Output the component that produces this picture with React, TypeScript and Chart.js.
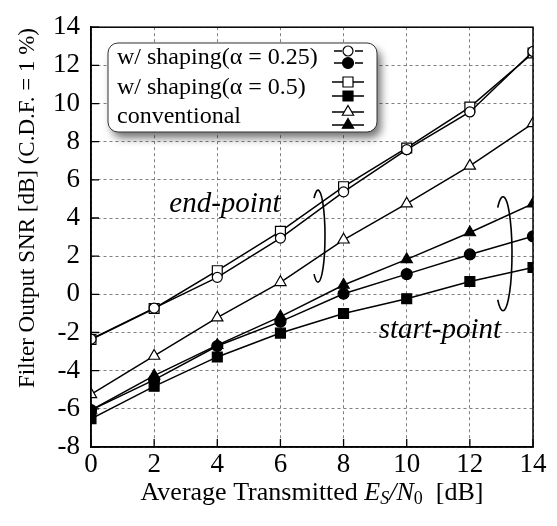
import React, { useEffect, useRef } from 'react';
import { Chart, registerables } from 'chart.js';

Chart.register(...registerables);

// ---- data ----
const xValues = [0, 2, 4, 6, 8, 10, 12, 14];
const shaping025End = [-2.35, -0.72, 0.89, 2.95, 5.37, 7.58, 9.56, 12.73];
const shaping025Start = [-6.06, -4.48, -2.71, -1.43, 0.03, 1.06, 2.09, 3.04];
const shaping05End = [-2.37, -0.74, 1.24, 3.3, 5.64, 7.67, 9.81, 12.65];
const shaping05Start = [-6.52, -4.82, -3.28, -2.03, -1.0, -0.23, 0.67, 1.41];
const convEnd = [-5.24, -3.23, -1.22, 0.63, 2.86, 4.75, 6.73, 8.96];
const convStart = [-6.06, -4.26, -2.66, -1.17, 0.49, 1.83, 3.24, 4.75];
const xTicks = [0, 2, 4, 6, 8, 10, 12, 14];
const yTicks = [-8, -6, -4, -2, 0, 2, 4, 6, 8, 10, 12, 14];
const legendLabels = ['w/ shaping(\u03b1 = 0.25)', 'w/ shaping(\u03b1 = 0.5)', 'conventional'];
const yTitle = 'Filter Output SNR [dB] (C.D.F. = 1 %)';
const endLabel = 'end-point';
const startLabel = 'start-point';

const SERIF = '"Liberation Serif", "Times New Roman", serif';

function pts(ys: number[]) {
  return xValues.map((x, i) => ({ x, y: ys[i] }));
}

function drawMarker(ctx: CanvasRenderingContext2D, style: string, x: number, y: number, filled: boolean) {
  ctx.save();
  ctx.lineWidth = 1.2;
  ctx.strokeStyle = '#000';
  ctx.fillStyle = filled ? '#000' : '#fff';
  ctx.beginPath();
  if (style === 'circle') {
    ctx.arc(x, y, filled ? 5.5 : 5, 0, Math.PI * 2);
  } else if (style === 'rect') {
    const s = 5;
    ctx.rect(x - s, y - s, 2 * s, 2 * s);
  } else {
    const r = 6.5;
    for (let k = 0; k < 3; k++) {
      const a = (k * 2 * Math.PI) / 3;
      const px = x + Math.sin(a) * r;
      const py = y - Math.cos(a) * r;
      if (k === 0) ctx.moveTo(px, py);
      else ctx.lineTo(px, py);
    }
    ctx.closePath();
  }
  ctx.fill();
  ctx.stroke();
  ctx.restore();
}

const decorPlugin = {
  id: 'decor',
  afterDraw(chart: any) {
    const ctx: CanvasRenderingContext2D = chart.ctx;
    const xs = chart.scales.x;
    const ys = chart.scales.y;
    const area = chart.chartArea;
    const X = (v: number) => xs.getPixelForValue(v);
    const Y = (v: number) => ys.getPixelForValue(v);

    ctx.save();
    // frame
    ctx.strokeStyle = '#000';
    ctx.lineWidth = 1.5;
    ctx.strokeRect(area.left, area.top, area.right - area.left, area.bottom - area.top);
    // inward ticks
    ctx.lineWidth = 1.3;
    ctx.beginPath();
    yTicks.forEach((v) => {
      ctx.moveTo(area.left, Y(v));
      ctx.lineTo(area.left + 8, Y(v));
    });
    xTicks.forEach((v) => {
      ctx.moveTo(X(v), area.bottom);
      ctx.lineTo(X(v), area.bottom - 8);
    });
    ctx.stroke();

    // brackets
    ctx.lineWidth = 1.6;
    ctx.beginPath();
    ctx.ellipse(X(7.19), Y(3.05), 7, 46, 0, -2.17, 2.17);
    ctx.stroke();
    ctx.beginPath();
    ctx.ellipse(X(13.05), Y(2.13), 9, 57, 0, -2.2, 2.2);
    ctx.stroke();

    // annotation text
    ctx.fillStyle = '#000';
    ctx.font = 'italic 29px ' + SERIF;
    ctx.textAlign = 'center';
    ctx.textBaseline = 'alphabetic';
    ctx.fillText(endLabel, X(4.24), Y(4.34));
    ctx.fillText(startLabel, X(11.05), Y(-2.3));

    // legend box
    const bx = 108, by = 43, bw = 269, bh = 89;
    ctx.save();
    ctx.shadowColor = 'rgba(0,0,0,0.55)';
    ctx.shadowBlur = 8;
    ctx.shadowOffsetX = 4;
    ctx.shadowOffsetY = 6;
    ctx.fillStyle = '#fff';
    ctx.beginPath();
    (ctx as any).roundRect(bx, by, bw, bh, 10);
    ctx.fill();
    ctx.restore();
    ctx.strokeStyle = '#333';
    ctx.lineWidth = 1;
    ctx.beginPath();
    (ctx as any).roundRect(bx, by, bw, bh, 10);
    ctx.stroke();

    ctx.fillStyle = '#000';
    ctx.font = '24px ' + SERIF;
    ctx.textAlign = 'left';
    ctx.textBaseline = 'middle';
    const rowsY = [58, 88, 117];
    legendLabels.forEach((t, i) => ctx.fillText(t, 117, rowsY[i]));

    const cx = 348;
    const styles = ['circle', 'rect', 'triangle'];
    const sampleY = [[51, 63], [82, 96], [112, 125]];
    ctx.strokeStyle = '#000';
    ctx.lineWidth = 1.5;
    sampleY.forEach((pair, i) => {
      pair.forEach((yy) => {
        ctx.beginPath();
        if (i === 0) {
          ctx.moveTo(334, yy); ctx.lineTo(342, yy);
          ctx.moveTo(355, yy); ctx.lineTo(363, yy);
        } else {
          ctx.moveTo(332, yy); ctx.lineTo(364, yy);
        }
        ctx.stroke();
      });
      drawMarker(ctx, styles[i], cx, pair[0], false);
      drawMarker(ctx, styles[i], cx, pair[1], true);
    });

    // axis titles
    ctx.fillStyle = '#000';
    ctx.textBaseline = 'alphabetic';
    ctx.save();
    ctx.translate(34, 208);
    ctx.rotate(-Math.PI / 2);
    ctx.font = '23px ' + SERIF;
    ctx.textAlign = 'center';
    ctx.fillText(yTitle, 0, 0);
    ctx.restore();

    // x title with italic parts
    const parts: { t: string; f: string; dy: number }[] = [
      { t: 'Average Transmitted ', f: '26px ' + SERIF, dy: 0 },
      { t: 'E', f: 'italic 26px ' + SERIF, dy: 0 },
      { t: 'S', f: 'italic 18px ' + SERIF, dy: 4 },
      { t: '/', f: 'italic 26px ' + SERIF, dy: 0 },
      { t: 'N', f: 'italic 26px ' + SERIF, dy: 0 },
      { t: '0', f: '18px ' + SERIF, dy: 4 },
      { t: '  [dB]', f: '26px ' + SERIF, dy: 0 },
    ];
    let total = 0;
    parts.forEach((p) => { ctx.font = p.f; total += ctx.measureText(p.t).width; });
    let px = (area.left + area.right) / 2 - total / 2;
    const base = 500;
    ctx.textAlign = 'left';
    parts.forEach((p) => {
      ctx.font = p.f;
      ctx.fillText(p.t, px, base + p.dy);
      px += ctx.measureText(p.t).width;
    });
    ctx.restore();
  },
};

function lineDs(label: string, data: number[], style: string, filled: boolean) {
  return {
    label,
    data: pts(data),
    borderColor: '#000',
    borderWidth: 1.5,
    pointStyle: style,
    pointRadius: style === 'rect' ? 7 : style === 'triangle' ? 6.5 : filled ? 5.5 : 5,
    pointBorderWidth: 1.2,
    pointBorderColor: '#000',
    pointBackgroundColor: filled ? '#000' : '#fff',
    fill: false,
    tension: 0,
  };
}

export default function App() {
  const ref = useRef<HTMLCanvasElement | null>(null);
  useEffect(() => {
    document.body.style.margin = '0';
    const canvas = ref.current!;
    const chart = new Chart(canvas, {
      type: 'line',
      data: {
        datasets: [
          lineDs('conv start', convStart, 'triangle', true),
          lineDs('0.25 start', shaping025Start, 'circle', true),
          lineDs('0.5 start', shaping05Start, 'rect', true),
          lineDs('conv end', convEnd, 'triangle', false),
          lineDs('0.25 end', shaping025End, 'circle', false),
          lineDs('0.5 end', shaping05End, 'rect', false),
        ],
      },
      options: {
        animation: false,
        responsive: false,
        maintainAspectRatio: false,
        layout: { padding: { top: 20, right: 24, left: 0, bottom: 0 } },
        plugins: { legend: { display: false }, tooltip: { enabled: false }, title: { display: false } },
        scales: {
          x: {
            type: 'linear',
            min: 0,
            max: 14,
            afterBuildTicks: (s: any) => { s.ticks = xTicks.map((v) => ({ value: v })); },
            afterFit: (s: any) => { s.height = 79; },
            ticks: { color: '#000', font: { family: SERIF, size: 27 }, padding: 2, maxRotation: 0 },
            grid: { color: '#808080', lineWidth: 1, drawTicks: false },
            border: { display: true, color: '#000', width: 1.5, dash: [3, 3] },
          },
          y: {
            type: 'linear',
            min: -8,
            max: 14,
            afterBuildTicks: (s: any) => { s.ticks = yTicks.map((v) => ({ value: v })); },
            afterFit: (s: any) => { s.width = 91; },
            ticks: { color: '#000', font: { family: SERIF, size: 27 }, padding: 11 },
            grid: { color: '#808080', lineWidth: 1, drawTicks: false },
            border: { display: true, color: '#000', width: 1.5, dash: [3, 3] },
          },
        },
      },
      plugins: [decorPlugin],
    } as any);
    return () => chart.destroy();
  }, []);
  return <canvas ref={ref} width={557} height={526} style={{ display: 'block' }} />;
}
